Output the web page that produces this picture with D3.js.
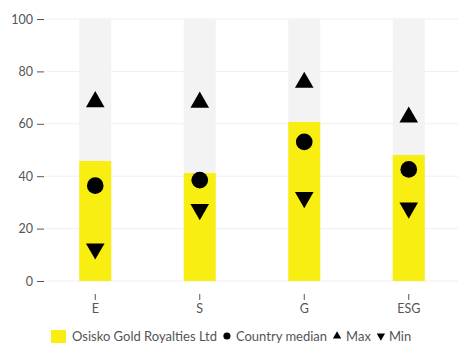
<!DOCTYPE html>
<html>
<head>
<meta charset="utf-8">
<script src="https://cdn.jsdelivr.net/npm/d3@7"></script>
<style>
  html, body { margin: 0; padding: 0; background: #fff; }
  svg { display: block; font-family: "Lato", "DejaVu Sans", sans-serif; }
</style>
</head>
<body>
<svg id="chart" width="458" height="345"></svg>
<script>
// ESG pillar scores
const categories = ["E", "S", "G", "ESG"];
const companyScores = [45.8, 41.2, 60.7, 48.1];
const countryMedian = [36.4, 38.5, 53.1, 42.6];
const maxScores = [68.4, 68.2, 75.8, 62.5];
const minScores = [12.3, 27.3, 31.9, 27.9];
const yTicks = [0, 20, 40, 60, 80, 100];
const companyName = "Osisko Gold Royalties Ltd";
const legendLabels = [companyName, "Country median", "Max", "Min"];

const svg = d3.select("#chart");
const W = 458, H = 345;
const margin = { top: 19, right: -3, bottom: 64, left: 43 };

const x = d3.scaleBand()
  .domain(categories)
  .range([margin.left, W - margin.right])
  .paddingInner(0.694)
  .paddingOuter(0.347);

const y = d3.scaleLinear()
  .domain([0, 100])
  .range([H - margin.bottom, margin.top]);

const textColor = "#555";
const yellow = "#f9ee12";

// horizontal gridlines
svg.append("g")
  .selectAll("line")
  .data(yTicks)
  .join("line")
  .attr("x1", 45).attr("x2", W)
  .attr("y1", d => y(d)).attr("y2", d => y(d))
  .attr("stroke", "#efefef").attr("stroke-width", 1);

// y axis
const yAxis = svg.append("g")
  .attr("transform", "translate(44,0)")
  .call(d3.axisLeft(y).tickValues(yTicks).tickSize(7).tickPadding(4));
yAxis.select(".domain").remove();
yAxis.selectAll(".tick line").attr("stroke", textColor);
yAxis.selectAll(".tick text").attr("fill", textColor).attr("font-size", 12.5)
  .attr("font-family", "Lato, 'DejaVu Sans', sans-serif");

// full-range background bars
svg.append("g")
  .selectAll("rect")
  .data(categories)
  .join("rect")
  .attr("x", d => x(d))
  .attr("width", x.bandwidth())
  .attr("y", y(100))
  .attr("height", y(0) - y(100))
  .attr("fill", "#f3f3f3");

// company score bars
svg.append("g")
  .selectAll("rect")
  .data(categories)
  .join("rect")
  .attr("x", d => x(d))
  .attr("width", x.bandwidth())
  .attr("y", (d, i) => y(companyScores[i]))
  .attr("height", (d, i) => y(0) - y(companyScores[i]))
  .attr("fill", yellow);

const cx = d => x(d) + x.bandwidth() / 2;

// country median
svg.append("g")
  .selectAll("path")
  .data(categories)
  .join("path")
  .attr("d", d3.symbol(d3.symbolCircle, 218))
  .attr("transform", (d, i) => `translate(${cx(d)},${y(countryMedian[i])})`)
  .attr("fill", "#000");

// max
svg.append("g")
  .selectAll("path")
  .data(categories)
  .join("path")
  .attr("d", d3.symbol(d3.symbolTriangle, 150))
  .attr("transform", (d, i) => `translate(${cx(d)},${y(maxScores[i])})`)
  .attr("fill", "#000");

// min
svg.append("g")
  .selectAll("path")
  .data(categories)
  .join("path")
  .attr("d", d3.symbol(d3.symbolTriangle, 150))
  .attr("transform", (d, i) => `translate(${cx(d)},${y(minScores[i])}) rotate(180)`)
  .attr("fill", "#000");

// x axis
const xAxis = svg.append("g")
  .attr("transform", `translate(0,${y(0) + 13})`)
  .call(d3.axisBottom(x).tickSize(6).tickPadding(4));
xAxis.select(".domain").remove();
xAxis.selectAll(".tick line").attr("stroke", textColor);
xAxis.selectAll(".tick text").attr("fill", textColor).attr("font-size", 12.5)
  .attr("font-family", "Lato, 'DejaVu Sans', sans-serif");

// legend: swatch/symbol followed by label, laid out left to right
const legend = svg.append("g").attr("fill", textColor).attr("font-size", 13);
const ly = 336;
const swatches = [
  g => g.append("rect").attr("x", 0).attr("y", -6).attr("width", 15).attr("height", 13).attr("fill", yellow),
  g => g.append("path").attr("d", d3.symbol(d3.symbolCircle, 40)).attr("transform", "translate(4,0)").attr("fill", "#000"),
  g => g.append("path").attr("d", d3.symbol(d3.symbolTriangle, 30)).attr("transform", "translate(4,0)").attr("fill", "#000"),
  g => g.append("path").attr("d", d3.symbol(d3.symbolTriangle, 30)).attr("transform", "translate(4,0) rotate(180)").attr("fill", "#000")
];
const labelOffsets = [21, 13, 13, 12];
let lx = 51;
legendLabels.forEach((label, i) => {
  const g = legend.append("g").attr("transform", `translate(${lx},${ly})`);
  swatches[i](g);
  const t = g.append("text").attr("x", labelOffsets[i]).attr("dy", "0.35em").text(label);
  lx += labelOffsets[i] + t.node().getComputedTextLength() + 6;
});
</script>
</body>
</html>
